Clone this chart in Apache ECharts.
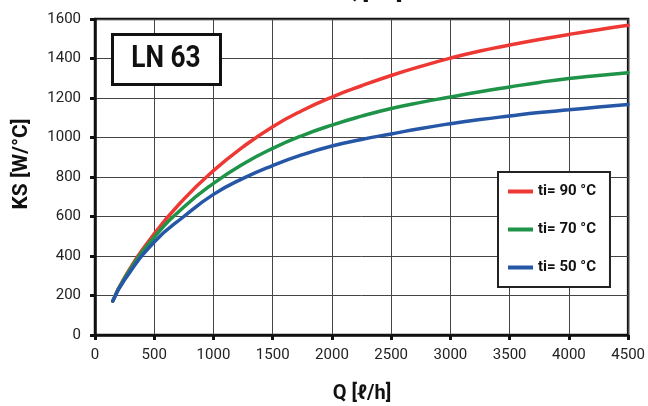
<!DOCTYPE html>
<html>
<head>
<meta charset="utf-8">
<script src="https://cdn.jsdelivr.net/npm/echarts@6/dist/echarts.min.js"></script>
<style>html,body{margin:0;padding:0;background:#fff;}#c{width:648px;height:406px;}</style>
</head>
<body>
<div id="c"></div>
<script>
var flow = [150, 250, 500, 750, 1000, 1250, 1500, 1750, 2000, 2250, 2500, 2750, 3000, 3250, 3500, 3750, 4000, 4250, 4500];
var ks90 = [172, 292, 512, 688, 832, 953, 1055, 1137, 1205, 1262, 1314, 1360, 1402, 1438, 1468, 1496, 1522, 1546, 1568];
var ks70 = [172, 288, 495, 648, 768, 866, 945, 1010, 1063, 1108, 1147, 1178, 1205, 1232, 1256, 1279, 1299, 1314, 1328];
var ks50 = [172, 280, 471, 600, 712, 793, 858, 913, 957, 990, 1018, 1046, 1070, 1091, 1109, 1126, 1140, 1154, 1167];
var seriesNames = ['ti= 90 °C', 'ti= 70 °C', 'ti= 50 °C'];
var colors = ['#ee3833', '#1f9347', '#2657a7'];
var xTicks = [0, 500, 1000, 1500, 2000, 2500, 3000, 3500, 4000, 4500];
var yTicks = [0, 200, 400, 600, 800, 1000, 1200, 1400, 1600];
var modelLabel = 'LN 63';
var xName = 'Q [ℓ/h]';
var yName = 'KS [W/°C]';

var FN = "Roboto, 'Liberation Sans', sans-serif";
function pairs(ys){ return flow.map(function(x,i){ return [x, ys[i]]; }); }
function plain(v){ return String(v); }
var chart = echarts.init(document.getElementById('c'), null, {renderer:'canvas'});
var allY = [ks90, ks70, ks50];
chart.setOption({
  animation: false,
  backgroundColor: '#fff',
  grid: {left: 95, right: 18, top: 19, bottom: 71, show: true, borderColor: '#111', borderWidth: 2.5, backgroundColor: 'transparent'},
  legend: {
    orient: 'vertical', left: 498, top: 172,
    backgroundColor: '#fff', borderColor: '#222', borderWidth: 2,
    padding: [12, 14, 12, 10],
    itemWidth: 25, itemHeight: 4, itemGap: 23,
    icon: 'rect',
    textStyle: {fontFamily: FN, fontWeight: 'bold', fontSize: 15, color: '#111'},
    data: seriesNames
  },
  xAxis: {
    type: 'value', min: xTicks[0], max: xTicks[xTicks.length-1], interval: 500,
    axisLine: {show: true, lineStyle: {color: '#111', width: 2.5}},
    axisTick: {show: true, inside: false, length: 5, lineStyle: {color: '#111', width: 3}},
    axisLabel: {margin: 13, fontFamily: FN, fontSize: 15, color: '#222', formatter: plain},
    splitLine: {show: true, lineStyle: {color: '#444', width: 1}}
  },
  yAxis: {
    type: 'value', min: yTicks[0], max: yTicks[yTicks.length-1], interval: 200,
    axisLine: {show: true, lineStyle: {color: '#111', width: 2.5}},
    axisTick: {show: true, inside: false, length: 5, lineStyle: {color: '#111', width: 3}},
    axisLabel: {margin: 14, fontFamily: FN, fontSize: 15, color: '#222', formatter: plain},
    splitLine: {show: true, lineStyle: {color: '#444', width: 1}}
  },
  graphic: [
    {type: 'rect', left: 111, top: 33, shape: {width: 108, height: 50}, style: {fill: '#fff', stroke: '#111', lineWidth: 3}, z: 100},
    {type: 'text', x: 166, y: 59, scaleX: 0.82, style: {text: modelLabel, fontFamily: FN, fontWeight: 'bold', fontSize: 32, fill: '#111', align: 'center', verticalAlign: 'middle'}, z: 101},
    {type: 'text', x: 22, y: 164, rotation: Math.PI/2, style: {text: yName, fontFamily: FN, fontWeight: 'bold', fontSize: 21, fill: '#111', align: 'center', verticalAlign: 'middle'}, z: 101},
    {type: 'text', x: 362, y: 394, style: {text: xName, fontFamily: FN, fontWeight: 'bold', fontSize: 20, fill: '#111', align: 'center', verticalAlign: 'middle'}, z: 101},
    {type: 'text', x: 373, y: 4, style: {text: xName, fontFamily: FN, fontWeight: 'bold', fontSize: 20, fill: '#111', align: 'center', verticalAlign: 'bottom'}, z: 101}
  ],
  series: seriesNames.map(function(n, i){
    return {
      name: n, type: 'line', smooth: true, showSymbol: false,
      data: pairs(allY[i]),
      lineStyle: {color: colors[i], width: 3.5, cap: 'round'},
      itemStyle: {color: colors[i]},
      z: 3
    };
  })
});
</script>
</body>
</html>
